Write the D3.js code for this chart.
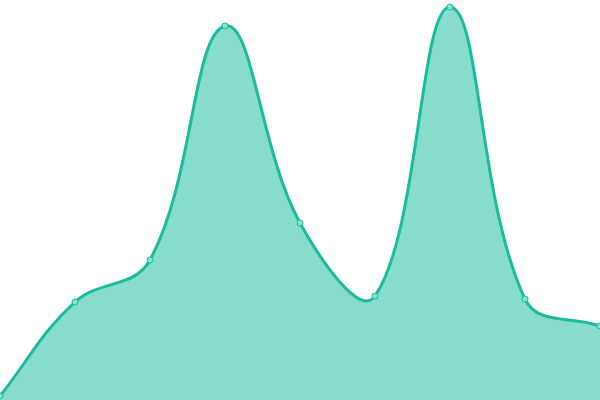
<!DOCTYPE html>
<html>
<head>
<meta charset="utf-8">
<script src="https://cdn.jsdelivr.net/npm/d3@7"></script>
<style>
    html, body { margin: 0; padding: 0; background: #fff; }
    svg { display: block; }
</style>
</head>
<body>
<div id="chart"></div>
<script>
'use strict';

// data (height above the bottom edge)
const steps = [0, 1, 2, 3, 4, 5, 6, 7, 8];
const values = [4, 98, 140, 374, 177, 104, 393, 101, 74];

const settings = {
    width: 600,
    height: 400,
    elId: '#chart',
};

const colors = {
    line: '#1abc9c',
    fill: '#1abc9c',
    dot: '#8ce0cf',
};

// Spline with distance-weighted tangents (tension 0.4)
function SplineCurve(context) {
    this._context = context;
    this._tension = 0.4;
}
SplineCurve.prototype = {
    areaStart() { this._line = 0; },
    areaEnd() { this._line = NaN; },
    lineStart() { this._pts = []; },
    point(x, y) { this._pts.push([+x, +y]); },
    lineEnd() {
        const p = this._pts;
        const n = p.length;
        const c = this._context;
        const t = this._tension;
        if (n) {
            if (this._line) c.lineTo(p[0][0], p[0][1]);
            else c.moveTo(p[0][0], p[0][1]);
        }
        // control points for each point
        const cps = p.map((cur, i) => {
            const prev = p[i - 1] || cur;
            const next = p[i + 1] || cur;
            const d01 = Math.hypot(cur[0] - prev[0], cur[1] - prev[1]);
            const d12 = Math.hypot(next[0] - cur[0], next[1] - cur[1]);
            let s01 = d01 / (d01 + d12);
            let s12 = d12 / (d01 + d12);
            if (isNaN(s01)) s01 = 0;
            if (isNaN(s12)) s12 = 0;
            const fa = t * s01;
            const fb = t * s12;
            return {
                prev: [cur[0] - fa * (next[0] - prev[0]), cur[1] - fa * (next[1] - prev[1])],
                next: [cur[0] + fb * (next[0] - prev[0]), cur[1] + fb * (next[1] - prev[1])],
            };
        });
        for (let i = 1; i < n; i++) {
            const a = cps[i - 1].next;
            const b = cps[i].prev;
            c.bezierCurveTo(a[0], a[1], b[0], b[1], p[i][0], p[i][1]);
        }
        if (this._line || (this._line !== 0 && n === 1)) c.closePath();
        this._line = 1 - this._line;
    },
};
const curveSpline = context => new SplineCurve(context);

const svg = d3.select(settings.elId)
    .append('svg')
    .attr('width', settings.width)
    .attr('height', settings.height);

const x = d3.scaleLinear()
    .domain([0, steps.length - 1])
    .range([0, settings.width]);

const y = d3.scaleLinear()
    .domain([0, 400])
    .range([settings.height, 0]);

const data = steps.map((s, i) => ({ step: s, value: values[i] }));

const area = d3.area()
    .x(d => x(d.step))
    .y0(settings.height)
    .y1(d => y(d.value))
    .curve(curveSpline);

const line = d3.line()
    .x(d => x(d.step))
    .y(d => y(d.value))
    .curve(curveSpline);

svg.append('path')
    .datum(data)
    .attr('d', area)
    .attr('fill', colors.fill)
    .attr('fill-opacity', 0.52);

svg.append('path')
    .datum(data)
    .attr('d', line)
    .attr('fill', 'none')
    .attr('stroke', colors.line)
    .attr('stroke-width', 3);

// dots
svg.selectAll('.dot')
    .data(data)
    .enter()
    .append('circle')
    .attr('class', 'dot')
    .attr('cx', d => x(d.step))
    .attr('cy', d => y(d.value))
    .attr('r', 3)
    .attr('fill', colors.dot)
    .attr('stroke', colors.line)
    .attr('stroke-width', 1);
</script>
</body>
</html>
